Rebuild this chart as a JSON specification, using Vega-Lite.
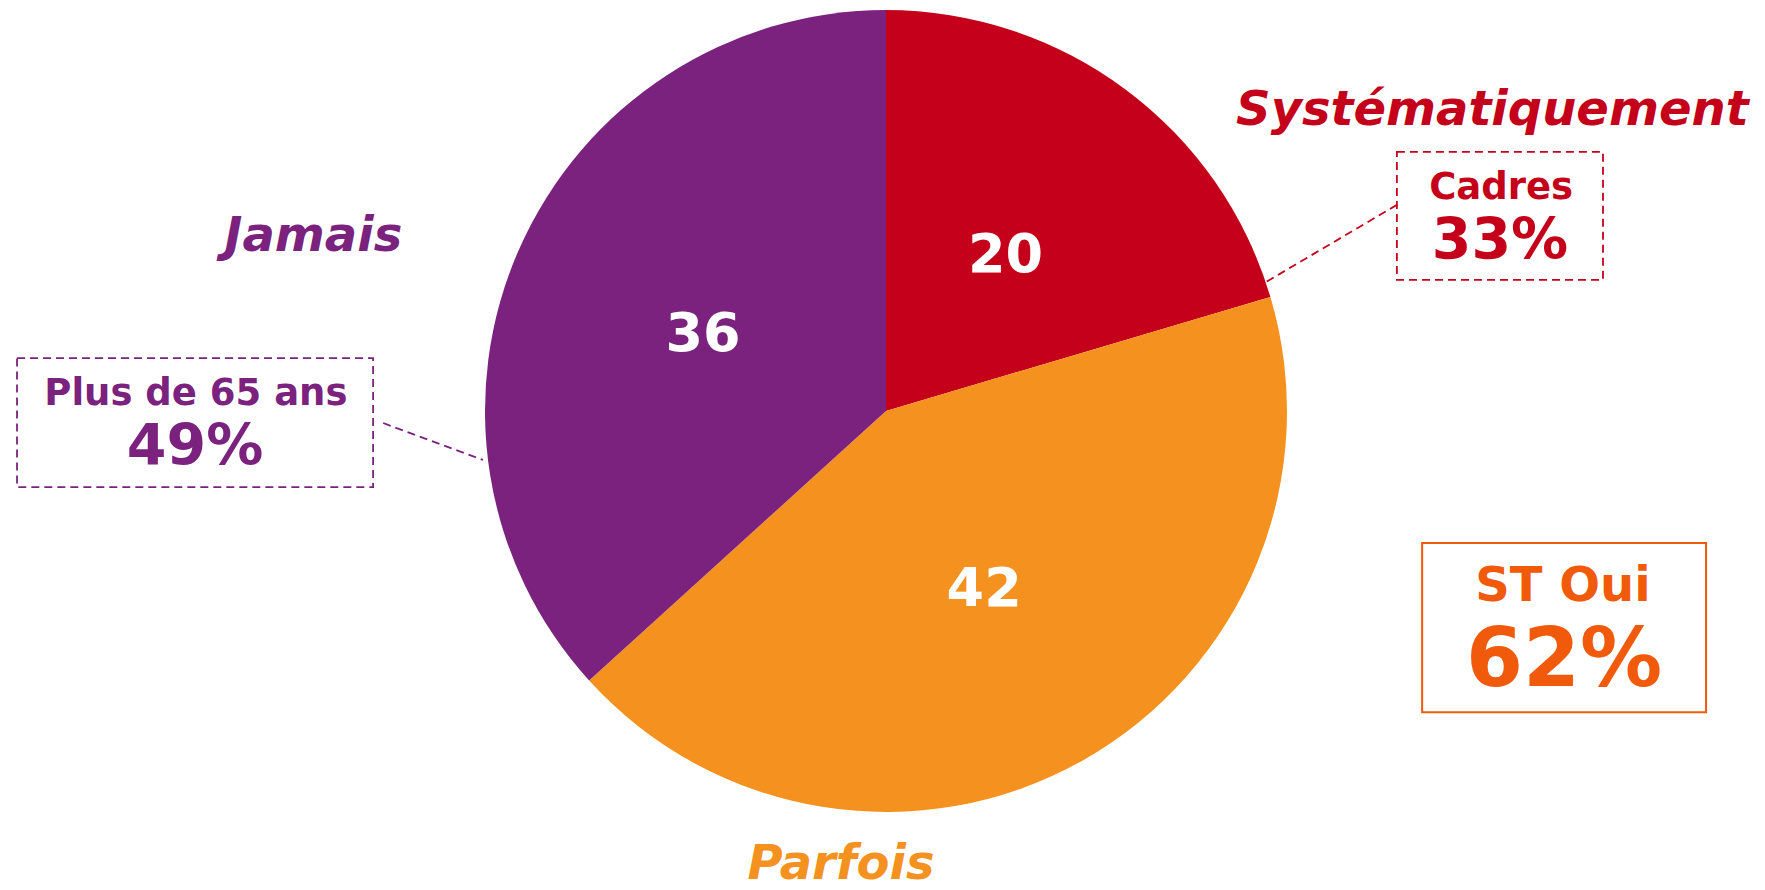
{
  "$schema": "https://vega.github.io/schema/vega-lite/v6.json",
  "width": 1758,
  "height": 822,
  "autosize": "none",
  "padding": {"left": 7, "top": 0, "right": 0, "bottom": 68},
  "background": "white",
  "config": {"view": {"stroke": null}, "font": "DejaVu Sans", "text": {"font": "DejaVu Sans"}},
  "datasets": {
    "parts": [
      {"categorie": "Systématiquement", "valeur": 20},
      {"categorie": "Parfois", "valeur": 42},
      {"categorie": "Jamais", "valeur": 36}
    ],
    "focus": [
      {"groupe": "Cadres", "pct": 0.33},
      {"groupe": "Plus de 65 ans", "pct": 0.49},
      {"groupe": "ST Oui", "pct": 0.62}
    ]
  },
  "layer": [
    {
      "data": {"name": "parts"},
      "mark": {"type": "arc", "outerRadius": 401},
      "encoding": {
        "theta": {"field": "valeur", "type": "quantitative", "stack": true},
        "order": {"field": "categorie", "type": "nominal", "sort": "descending"},
        "color": {
          "field": "categorie", "type": "nominal", "legend": null,
          "scale": {"domain": ["Systématiquement", "Parfois", "Jamais"], "range": ["#C4001A", "#F5911E", "#7A227D"]}
        }
      }
    },
    {
      "data": {"name": "parts"},
      "mark": {"type": "text", "radius": 200, "dy": 5, "fontSize": 54, "fontWeight": "bold", "fill": "white", "align": "center", "baseline": "middle"},
      "encoding": {
        "theta": {"field": "valeur", "type": "quantitative", "stack": true},
        "order": {"field": "categorie", "type": "nominal", "sort": "descending"},
        "text": {"field": "valeur", "type": "quantitative"}
      }
    },
    {
      "data": {"name": "parts"},
      "transform": [{"filter": {"field": "categorie", "equal": "Systématiquement"}}],
      "mark": {"type": "text", "fontSize": 48, "fontWeight": "bold", "fontStyle": "italic", "fill": "#C4001A", "align": "center", "baseline": "alphabetic"},
      "encoding": {
        "x": {"datum": 1.512, "type": "quantitative", "scale": {"domain": [-2.192, 2.192], "nice": false, "zero": false}, "axis": null},
        "y": {"datum": 0.713, "type": "quantitative", "scale": {"domain": [-1.025, 1.025], "nice": false, "zero": false}, "axis": null},
        "text": {"field": "categorie", "type": "nominal"}
      }
    },
    {
      "data": {"name": "parts"},
      "transform": [{"filter": {"field": "categorie", "equal": "Jamais"}}],
      "mark": {"type": "text", "fontSize": 48, "fontWeight": "bold", "fontStyle": "italic", "fill": "#7A227D", "align": "center", "baseline": "alphabetic"},
      "encoding": {
        "x": {"datum": -1.428, "type": "quantitative"},
        "y": {"datum": 0.399, "type": "quantitative"},
        "text": {"field": "categorie", "type": "nominal"}
      }
    },
    {
      "data": {"name": "parts"},
      "transform": [{"filter": {"field": "categorie", "equal": "Parfois"}}],
      "mark": {"type": "text", "fontSize": 48, "fontWeight": "bold", "fontStyle": "italic", "fill": "#F5911E", "align": "center", "baseline": "alphabetic"},
      "encoding": {
        "x": {"datum": -0.112, "type": "quantitative"},
        "y": {"datum": -1.166, "type": "quantitative"},
        "text": {"field": "categorie", "type": "nominal"}
      }
    },
    {
      "data": {"name": "focus"},
      "transform": [{"filter": {"field": "groupe", "equal": "Cadres"}}],
      "mark": {"type": "rule", "stroke": "#C4001A", "strokeWidth": 1.8, "strokeDash": [8, 5]},
      "encoding": {
        "x": {"datum": 1.274, "type": "quantitative"},
        "y": {"datum": 0.514, "type": "quantitative"},
        "x2": {"datum": 0.948},
        "y2": {"datum": 0.322}
      }
    },
    {
      "data": {"name": "focus"},
      "transform": [{"filter": {"field": "groupe", "equal": "Cadres"}}],
      "mark": {"type": "rect", "filled": false, "stroke": "#C4001A", "strokeWidth": 1.8, "strokeDash": [8, 5]},
      "encoding": {
        "x": {"datum": 1.274, "type": "quantitative"},
        "x2": {"datum": 1.788},
        "y": {"datum": 0.646, "type": "quantitative"},
        "y2": {"datum": 0.327}
      }
    },
    {
      "data": {"name": "focus"},
      "transform": [{"filter": {"field": "groupe", "equal": "Cadres"}}],
      "mark": {"type": "text", "fontSize": 37, "fontWeight": "bold", "fill": "#C4001A", "align": "center", "baseline": "alphabetic"},
      "encoding": {
        "x": {"datum": 1.534, "type": "quantitative"},
        "y": {"datum": 0.529, "type": "quantitative"},
        "text": {"field": "groupe", "type": "nominal"}
      }
    },
    {
      "data": {"name": "focus"},
      "transform": [{"filter": {"field": "groupe", "equal": "Cadres"}}],
      "mark": {"type": "text", "fontSize": 57, "fontWeight": "bold", "fill": "#C4001A", "align": "center", "baseline": "alphabetic"},
      "encoding": {
        "x": {"datum": 1.531, "type": "quantitative"},
        "y": {"datum": 0.379, "type": "quantitative"},
        "text": {"field": "pct", "type": "quantitative", "format": ".0%"}
      }
    },
    {
      "data": {"name": "focus"},
      "transform": [{"filter": {"field": "groupe", "equal": "Plus de 65 ans"}}],
      "mark": {"type": "rule", "stroke": "#7A227D", "strokeWidth": 1.8, "strokeDash": [8, 5]},
      "encoding": {
        "x": {"datum": -1.254, "type": "quantitative"},
        "y": {"datum": -0.03, "type": "quantitative"},
        "x2": {"datum": -1.005},
        "y2": {"datum": -0.122}
      }
    },
    {
      "data": {"name": "focus"},
      "transform": [{"filter": {"field": "groupe", "equal": "Plus de 65 ans"}}],
      "mark": {"type": "rect", "filled": false, "stroke": "#7A227D", "strokeWidth": 1.8, "strokeDash": [8, 5]},
      "encoding": {
        "x": {"datum": -2.167, "type": "quantitative"},
        "x2": {"datum": -1.279},
        "y": {"datum": 0.132, "type": "quantitative"},
        "y2": {"datum": -0.190}
      }
    },
    {
      "data": {"name": "focus"},
      "transform": [{"filter": {"field": "groupe", "equal": "Plus de 65 ans"}}],
      "mark": {"type": "text", "fontSize": 37, "fontWeight": "bold", "fill": "#7A227D", "align": "center", "baseline": "alphabetic"},
      "encoding": {
        "x": {"datum": -1.721, "type": "quantitative"},
        "y": {"datum": 0.015, "type": "quantitative"},
        "text": {"field": "groupe", "type": "nominal"}
      }
    },
    {
      "data": {"name": "focus"},
      "transform": [{"filter": {"field": "groupe", "equal": "Plus de 65 ans"}}],
      "mark": {"type": "text", "fontSize": 57, "fontWeight": "bold", "fill": "#7A227D", "align": "center", "baseline": "alphabetic"},
      "encoding": {
        "x": {"datum": -1.723, "type": "quantitative"},
        "y": {"datum": -0.135, "type": "quantitative"},
        "text": {"field": "pct", "type": "quantitative", "format": ".0%"}
      }
    },
    {
      "data": {"name": "focus"},
      "transform": [{"filter": {"field": "groupe", "equal": "ST Oui"}}],
      "mark": {"type": "rect", "filled": false, "stroke": "#F05A0A", "strokeWidth": 2},
      "encoding": {
        "x": {"datum": 1.337, "type": "quantitative"},
        "x2": {"datum": 2.045},
        "y": {"datum": -0.329, "type": "quantitative"},
        "y2": {"datum": -0.751}
      }
    },
    {
      "data": {"name": "focus"},
      "transform": [{"filter": {"field": "groupe", "equal": "ST Oui"}}],
      "mark": {"type": "text", "fontSize": 48, "fontWeight": "bold", "fill": "#F05A0A", "align": "center", "baseline": "alphabetic"},
      "encoding": {
        "x": {"datum": 1.688, "type": "quantitative"},
        "y": {"datum": -0.474, "type": "quantitative"},
        "text": {"field": "groupe", "type": "nominal"}
      }
    },
    {
      "data": {"name": "focus"},
      "transform": [{"filter": {"field": "groupe", "equal": "ST Oui"}}],
      "mark": {"type": "text", "fontSize": 82, "fontWeight": "bold", "fill": "#F05A0A", "align": "center", "baseline": "alphabetic"},
      "encoding": {
        "x": {"datum": 1.691, "type": "quantitative"},
        "y": {"datum": -0.686, "type": "quantitative"},
        "text": {"field": "pct", "type": "quantitative", "format": ".0%"}
      }
    }
  ]
}
